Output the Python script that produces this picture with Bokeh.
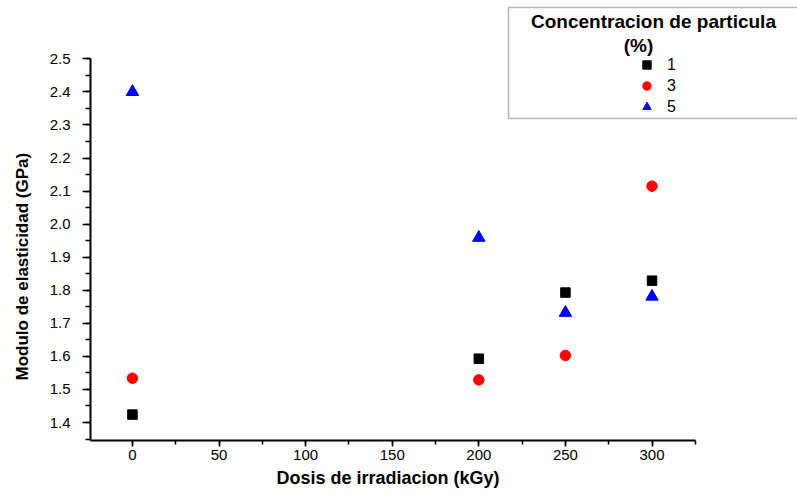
from bokeh.plotting import figure
from bokeh.models import (Range1d, SingleIntervalTicker, PrintfTickFormatter, Legend,
                          LegendItem, BoxAnnotation, Label, Title)
from bokeh.embed import file_html
from bokeh.resources import INLINE

# ---- data ----
dose = [0, 200, 250, 300]
conc_1 = [1.424, 1.593, 1.793, 1.829]
conc_3 = [1.534, 1.529, 1.603, 2.115]
conc_5 = [2.400, 1.959, 1.732, 1.781]
series_labels = ["1", "3", "5"]
legend_title = ["Concentracion de particula", "(%)"]
x_title = "Dosis de irradiacion (kGy)"
y_title = "Modulo de elasticidad (GPa)"
x_axis_bounds = (-24.22, 325)
y_axis_bounds = (1.3456, 2.5005)

FONT = "Liberation Sans"

# frame extends over the legend area; the axes are limited by bounds
p = figure(width=797, height=497, output_backend="svg", toolbar_location=None,
           x_range=Range1d(-24.22, 384.0), y_range=Range1d(1.3456, 2.6765),
           min_border_left=89, min_border_right=0, min_border_top=0, min_border_bottom=57)

p.grid.visible = False
p.outline_line_color = None
p.background_fill_color = "white"
p.border_fill_color = "white"

p.xaxis.ticker = SingleIntervalTicker(interval=50, num_minor_ticks=2)
p.yaxis.ticker = SingleIntervalTicker(interval=0.1, num_minor_ticks=2)
p.yaxis.formatter = PrintfTickFormatter(format="%.1f")
p.xaxis.bounds = x_axis_bounds
p.yaxis.bounds = y_axis_bounds

for ax in p.axis:
    ax.axis_line_width = 2
    ax.axis_line_color = "black"
    ax.major_tick_line_color = "black"
    ax.minor_tick_line_color = "black"
    ax.major_tick_line_width = 1.5
    ax.minor_tick_line_width = 1.5
    ax.major_tick_in = 0
    ax.minor_tick_in = 0
    ax.major_label_text_font = FONT
    ax.major_label_text_color = "black"

p.xaxis.major_tick_out = 6
p.xaxis.minor_tick_out = 4
p.xaxis.major_label_standoff = 3
p.xaxis.major_label_text_font_size = "15px"

p.yaxis.major_tick_out = 8
p.yaxis.minor_tick_out = 5
p.yaxis.major_label_standoff = 12
p.yaxis.major_label_text_font_size = "15px"

# axis titles as side-panel titles so they can be positioned like the reference
xt = Title(text=x_title, align="left", offset=186, vertical_align="top", standoff=10,
           text_font=FONT, text_font_style="bold", text_font_size="18px", text_color="black")
p.add_layout(xt, "below")
yt = Title(text=y_title, align="left", offset=60, vertical_align="top", standoff=25,
           text_font=FONT, text_font_style="bold", text_font_size="17px", text_color="black")
p.add_layout(yt, "left")

r1 = p.scatter(dose, conc_1, marker="square", size=9.5, fill_color="black", line_color="black")
r3 = p.scatter(dose, conc_3, marker="circle", size=10.5, fill_color="red", line_color="red")
r5 = p.scatter(dose, conc_5, marker="triangle", size=12.5, fill_color="blue", line_color="blue")

# legend frame and title
box = BoxAnnotation(left=418, right=709, top=433, bottom=322,
                    left_units="screen", right_units="screen", top_units="screen", bottom_units="screen",
                    fill_color="white", fill_alpha=1, line_color="#111111", line_width=1.5, level="annotation")
p.add_layout(box)

t1 = Label(x=563, y=419.5, x_units="screen", y_units="screen", text=legend_title[0],
           text_align="center", text_baseline="middle", text_font=FONT, text_font_style="bold",
           text_font_size="19px", text_color="black")
t2 = Label(x=548, y=395.5, x_units="screen", y_units="screen", text=legend_title[1],
           text_align="center", text_baseline="middle", text_font=FONT, text_font_style="bold",
           text_font_size="19px", text_color="black")
p.add_layout(t1)
p.add_layout(t2)

legend = Legend(items=[LegendItem(label=series_labels[0], renderers=[r1]),
                       LegendItem(label=series_labels[1], renderers=[r3]),
                       LegendItem(label=series_labels[2], renderers=[r5])],
                location=(546, 323), orientation="vertical",
                glyph_width=21, glyph_height=21, spacing=0, padding=0, margin=0,
                label_standoff=10, label_height=21,
                border_line_color=None, background_fill_alpha=0,
                label_text_font=FONT, label_text_font_size="16px", label_text_color="black")
p.add_layout(legend)

open("out.html", "w").write(file_html(p, INLINE))
